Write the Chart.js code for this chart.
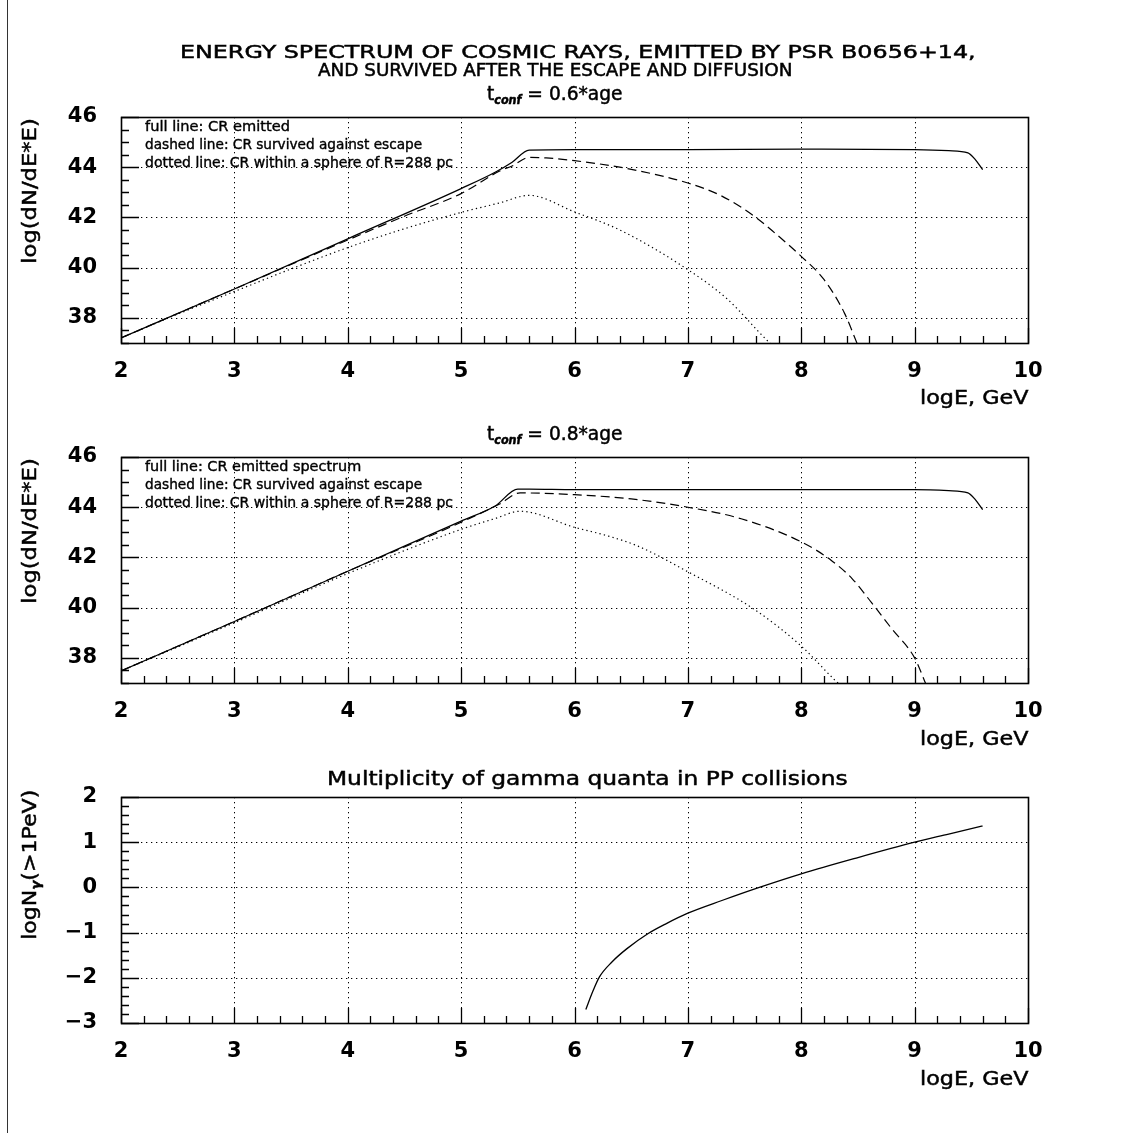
<!DOCTYPE html>
<html>
<head>
<meta charset="utf-8">
<script src="https://cdn.jsdelivr.net/npm/chart.js@4.4.1/dist/chart.umd.min.js"></script>
<style>
  html, body { margin: 0; padding: 0; background: #fff; }
  body { width: 1133px; height: 1133px; position: relative; overflow: hidden; font-family: "DejaVu Sans", sans-serif; color: #000; }
  canvas.pan { position: absolute; left: 0; }
  .t { position: absolute; white-space: nowrap; line-height: normal; color: #000; -webkit-text-stroke: 0.5px #000; }
  .t sub { font-size: 0.6em; vertical-align: -0.3em; font-style: italic; font-weight: bold; }
  #frameL { position: absolute; left: 7px; top: 0; width: 0; height: 1133px; border-left: 1.5px solid #333; }
</style>
</head>
<body>
<div id="frameL"></div>
<canvas id="c1" class="pan" width="1133" height="420" style="top:0px"></canvas>
<canvas id="c2" class="pan" width="1133" height="420" style="top:340px"></canvas>
<canvas id="c3" class="pan" width="1133" height="420" style="top:680px"></canvas>
<script>
// ---------------- data ----------------
const xTicks = [2, 3, 4, 5, 6, 7, 8, 9, 10];
const yTicksSpec = [38, 40, 42, 44, 46];
const yTicksMult = [-3, -2, -1, 0, 1, 2];

// panel 1 : t_conf = 0.6*age
const p1FullX = [2, 3, 4, 5, 5.3, 5.45, 5.6, 6, 7, 8, 9, 9.3, 9.47, 9.53, 9.6];
const p1FullY = [37.2, 39.15, 41.15, 43.15, 43.8, 44.2, 44.68, 44.7, 44.7, 44.72, 44.7, 44.66, 44.57, 44.33, 43.9];
const p1DashX = [2, 3, 4, 4.5, 5, 5.34, 5.45, 5.6, 5.75, 6, 6.45, 7, 7.3, 7.6, 7.77, 8, 8.2, 8.38, 8.5];
const p1DashY = [37.2, 39.15, 41.1, 42.05, 42.95, 43.85, 44.05, 44.39, 44.37, 44.26, 43.96, 43.37, 42.85, 42.0, 41.37, 40.45, 39.53, 38.2, 36.9];
const p1DotX = [2, 2.5, 3, 3.5, 4, 4.5, 5, 5.34, 5.6, 6, 6.4, 7, 7.35, 7.7, 7.75];
const p1DotY = [37.2, 38.15, 39.05, 39.95, 40.8, 41.55, 42.2, 42.58, 42.88, 42.22, 41.5, 39.92, 38.74, 37.1, 36.9];

// panel 2 : t_conf = 0.8*age
const p2FullX = [2, 3, 4, 5, 5.3, 5.5, 5.6, 6, 7, 8, 9, 9.3, 9.47, 9.53, 9.6];
const p2FullY = [37.48, 39.45, 41.45, 43.45, 44.05, 44.72, 44.72, 44.7, 44.7, 44.7, 44.7, 44.66, 44.57, 44.33, 43.9];
const p2DashX = [2, 3, 4, 5, 5.34, 5.52, 6, 6.5, 7, 7.47, 8, 8.26, 8.45, 8.62, 8.8, 9, 9.1];
const p2DashY = [37.48, 39.45, 41.45, 43.4, 44.13, 44.57, 44.5, 44.33, 44.0, 43.54, 42.62, 41.9, 41.15, 40.2, 39.15, 38.0, 36.95];
const p2DotX = [2, 3, 4, 5, 5.3, 5.52, 6, 6.3, 6.56, 7, 7.59, 8, 8.3, 8.35];
const p2DotY = [37.48, 39.4, 41.36, 43.12, 43.55, 43.84, 43.2, 42.85, 42.45, 41.43, 39.92, 38.47, 37.1, 36.9];

// panel 3 : multiplicity of gamma quanta
const p3X = [6.1, 6.16, 6.22, 6.33, 6.46, 6.65, 6.81, 7, 7.3, 7.63, 8, 8.5, 9, 9.3, 9.6];
const p3Y = [-2.70, -2.31, -1.98, -1.65, -1.36, -1.02, -0.8, -0.57, -0.29, 0.0, 0.30, 0.66, 1.0, 1.18, 1.36];

// ---------------- helpers ----------------
const FONT = '"DejaVu Sans", sans-serif';
const pts = (xs, ys) => xs.map((x, i) => ({ x: x, y: ys[i] }));

const decor = {
  id: 'decor',
  beforeDatasetsDraw(chart, args, o) {
    const { ctx, chartArea: a, scales: { x, y } } = chart;
    ctx.save();
    ctx.strokeStyle = '#000';
    ctx.lineWidth = 1;
    ctx.setLineDash([1.3, 3.7]);
    ctx.beginPath();
    o.xMajor.forEach(v => {
      if (v <= x.min || v >= x.max) return;
      const px = Math.round(x.getPixelForValue(v)) + 0.5;
      ctx.moveTo(px, a.top); ctx.lineTo(px, a.bottom);
    });
    o.yMajor.forEach(v => {
      if (v <= y.min || v >= y.max) return;
      const py = Math.round(y.getPixelForValue(v)) + 0.5;
      ctx.moveTo(a.left, py); ctx.lineTo(a.right, py);
    });
    ctx.stroke();
    ctx.restore();
  },
  afterDatasetsDraw(chart, args, o) {
    const { ctx, chartArea: a, scales: { x, y } } = chart;
    ctx.save();
    ctx.strokeStyle = '#000';
    ctx.setLineDash([]);
    ctx.lineWidth = 1.3;
    ctx.beginPath();
    const nx = Math.round((x.max - x.min) / o.xMinor);
    for (let i = 0; i <= nx; i++) {
      const v = x.min + i * o.xMinor;
      const major = Math.abs(v / o.xStep - Math.round(v / o.xStep)) < 1e-6;
      const px = Math.round(x.getPixelForValue(v)) + 0.5;
      ctx.moveTo(px, a.bottom); ctx.lineTo(px, a.bottom - (major ? 15 : 7));
    }
    const ny = Math.round((y.max - y.min) / o.yMinor);
    for (let i = 0; i <= ny; i++) {
      const v = y.min + i * o.yMinor;
      const major = Math.abs(v / o.yStep - Math.round(v / o.yStep)) < 1e-6;
      const py = Math.round(y.getPixelForValue(v)) + 0.5;
      ctx.moveTo(a.left, py); ctx.lineTo(a.left + (major ? 18 : 8), py);
    }
    ctx.stroke();
    ctx.lineWidth = 1.6;
    ctx.strokeRect(Math.round(a.left) + 0.5, Math.round(a.top) + 0.5, Math.round(a.right - a.left), Math.round(a.bottom - a.top));
    ctx.restore();
  }
};

function lineDs(data, kind) {
  const ds = { data: data, borderColor: '#000', backgroundColor: '#000', pointRadius: 0, fill: false,
               cubicInterpolationMode: 'monotone', clip: 0, borderWidth: 1.3 };
  if (kind === 'dash') { ds.borderDash = [9, 5]; ds.borderWidth = 1.2; }
  if (kind === 'dot') { ds.borderDash = [1.3, 3.2]; ds.borderWidth = 1.2; }
  return ds;
}

function makeChart(id, datasets, yMin, yMax, yTickVals, yStep, yMinor) {
  return new Chart(document.getElementById(id), {
    type: 'line',
    data: { datasets: datasets },
    options: {
      responsive: false, animation: false, devicePixelRatio: 1,
      layout: { padding: { top: 117, left: 0, right: 105, bottom: 17 } },
      plugins: {
        legend: { display: false }, tooltip: { enabled: false }, title: { display: false },
        decor: { xMajor: xTicks, yMajor: yTickVals, xStep: 1, xMinor: 0.2, yStep: yStep, yMinor: yMinor }
      },
      scales: {
        x: {
          type: 'linear', min: 2, max: 10,
          grid: { display: false }, border: { display: false },
          afterBuildTicks: s => { s.ticks = xTicks.map(v => ({ value: v })); },
          afterFit: s => { s.height = 60; },
          ticks: { color: '#000', font: { family: FONT, size: 21, weight: 'bold' }, padding: 8, maxRotation: 0, autoSkip: false,
                   callback: v => String(v) }
        },
        y: {
          type: 'linear', min: yMin, max: yMax,
          grid: { display: false }, border: { display: false },
          afterBuildTicks: s => { s.ticks = yTickVals.map(v => ({ value: v })); },
          afterFit: s => { s.width = 121; },
          ticks: { color: '#000', font: { family: FONT, size: 21, weight: 'bold' }, padding: 16, autoSkip: false,
                   callback: v => String(v).replace('-', '\u2212') }
        }
      }
    },
    plugins: [decor]
  });
}

makeChart('c1', [lineDs(pts(p1FullX, p1FullY)), lineDs(pts(p1DashX, p1DashY), 'dash'), lineDs(pts(p1DotX, p1DotY), 'dot')],
          37, 46, yTicksSpec, 2, 0.5);
makeChart('c2', [lineDs(pts(p2FullX, p2FullY)), lineDs(pts(p2DashX, p2DashY), 'dash'), lineDs(pts(p2DotX, p2DotY), 'dot')],
          37, 46, yTicksSpec, 2, 0.5);
makeChart('c3', [lineDs(pts(p3X, p3Y))], -3, 2, yTicksMult, 1, 0.2);

// ---------------- text ----------------
function addText(html, o) {
  const d = document.createElement('div');
  d.className = 't';
  d.innerHTML = html;
  d.style.fontSize = o.size + 'px';
  if (o.stroke !== undefined) d.style.webkitTextStroke = o.stroke + 'px #000';
  document.body.appendChild(d);
  const w = d.offsetWidth, h = d.offsetHeight;
  const sx = o.width / w;
  if (!o.rot) {
    d.style.left = o.left + 'px';
    d.style.top = (o.cy - h / 2) + 'px';
    d.style.transformOrigin = '0 50%';
    d.style.transform = 'scaleX(' + sx + ')';
  } else {
    d.style.left = (o.cx - w / 2) + 'px';
    d.style.top = (o.top + o.width / 2 - h / 2) + 'px';
    d.style.transformOrigin = '50% 50%';
    d.style.transform = 'rotate(-90deg) scaleX(' + sx + ')';
  }
}

addText('ENERGY SPECTRUM OF COSMIC RAYS, EMITTED BY PSR B0656+14,', { left: 180, width: 796, cy: 51, size: 18.5 });
addText('AND SURVIVED AFTER THE ESCAPE AND DIFFUSION', { left: 318, width: 474, cy: 69, size: 18 });
addText('t<sub>conf</sub> = 0.6*age', { left: 487, width: 136, cy: 94, size: 20 });
addText('t<sub>conf</sub> = 0.8*age', { left: 487, width: 136, cy: 434, size: 20 });
addText('Multiplicity of gamma quanta in PP collisions', { left: 327, width: 520, cy: 778, size: 20 });

addText('full line: CR emitted', { left: 145, width: 145, cy: 126, size: 14.5, stroke: 0.4 });
addText('dashed line: CR survived against escape', { left: 145, width: 277, cy: 144, size: 14.5, stroke: 0.4 });
addText('dotted line: CR within a sphere of R=288 pc', { left: 145, width: 308, cy: 162, size: 14.5, stroke: 0.4 });
addText('full line: CR emitted spectrum', { left: 145, width: 216, cy: 466, size: 14.5, stroke: 0.4 });
addText('dashed line: CR survived against escape', { left: 145, width: 277, cy: 484, size: 14.5, stroke: 0.4 });
addText('dotted line: CR within a sphere of R=288 pc', { left: 145, width: 308, cy: 502, size: 14.5, stroke: 0.4 });

addText('log(dN/dE*E)', { rot: true, cx: 29, top: 118, width: 145, size: 20 });
addText('log(dN/dE*E)', { rot: true, cx: 29, top: 458, width: 145, size: 20 });
addText('logN<sub>\u03b3</sub>(&gt;1PeV)', { rot: true, cx: 30, top: 790, width: 150, size: 20 });

addText('logE, GeV', { left: 920, width: 108, cy: 397, size: 20 });
addText('logE, GeV', { left: 920, width: 108, cy: 738, size: 20 });
addText('logE, GeV', { left: 920, width: 108, cy: 1078, size: 20 });
</script>
</body>
</html>
